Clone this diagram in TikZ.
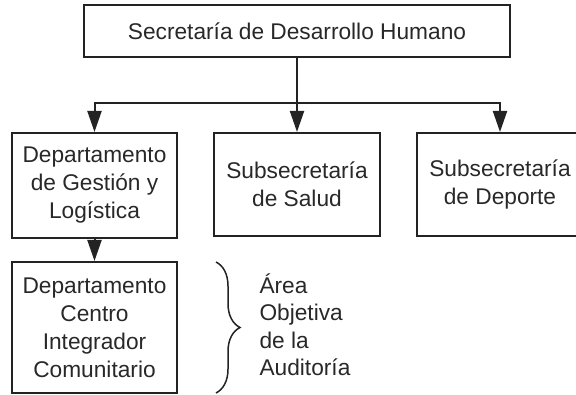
\documentclass[tikz,border=0pt]{standalone}
\usepackage{fontspec}
\setmainfont{Liberation Sans}
\usepackage{xcolor}
\usetikzlibrary{arrows.meta, positioning, decorations.pathreplacing}
\definecolor{inkcolor}{RGB}{35, 35, 35}
\definecolor{textcolor}{RGB}{40, 40, 40}

\begin{document}
\begin{tikzpicture}[
    x=1pt, y=-1pt,
    unit/.style={draw=inkcolor, line width=2pt, align=center, text=textcolor, inner sep=0pt,
        font=\fontsize{22.7}{28}\selectfont},
    link/.style={draw=inkcolor, line width=2pt, -{Triangle[length=21pt, width=14pt]}},
]
    \useasboundingbox (0,0) rectangle (576,395);
    \clip (0,0) rectangle (576,395);

    % Units
    \node[unit, minimum width=426, minimum height=52] (secretaria) at (297, 31) {Secretaría de Desarrollo Humano};
    \node[unit, minimum width=165, minimum height=105] (gestion) at (94.5, 185.5) {Departamento\\de Gestión y\\Logística};
    \node[unit, minimum width=166, minimum height=103] (salud) at (297, 184.5) {Subsecretaría\\de Salud};
    \node[unit, minimum width=166, minimum height=103] (deporte) at (500, 184.5) {Subsecretaría\\de Deporte};
    \node[unit, minimum width=165, minimum height=131] (centro) at (94.5, 327.5) {Departamento\\Centro\\Integrador\\Comunitario};

    % Connectors
    \coordinate (bus) at (297, 103);
    \draw[draw=inkcolor, line width=2pt] (secretaria) -- (bus);
    \draw[link] (bus) -| (gestion.north);
    \draw[link] (bus) -- (salud.north);
    \draw[link] (bus) -| (deporte.north);
    \draw[link] (gestion) -- (centro);

    % Audit area
    \coordinate (bracetop) at (216, 262);
    \coordinate (bracebot) at (216, 393);
    \draw[draw=inkcolor, line width=1.5pt, decorate, decoration={brace, amplitude=24pt}] (bracetop) -- (bracebot);
    \node[anchor=west, align=left, text=textcolor, font=\fontsize{22.7}{27.5}\selectfont] (area) at (256, 325) {Área\\Objetiva\\de la\\Auditoría};

\end{tikzpicture}
\end{document}
